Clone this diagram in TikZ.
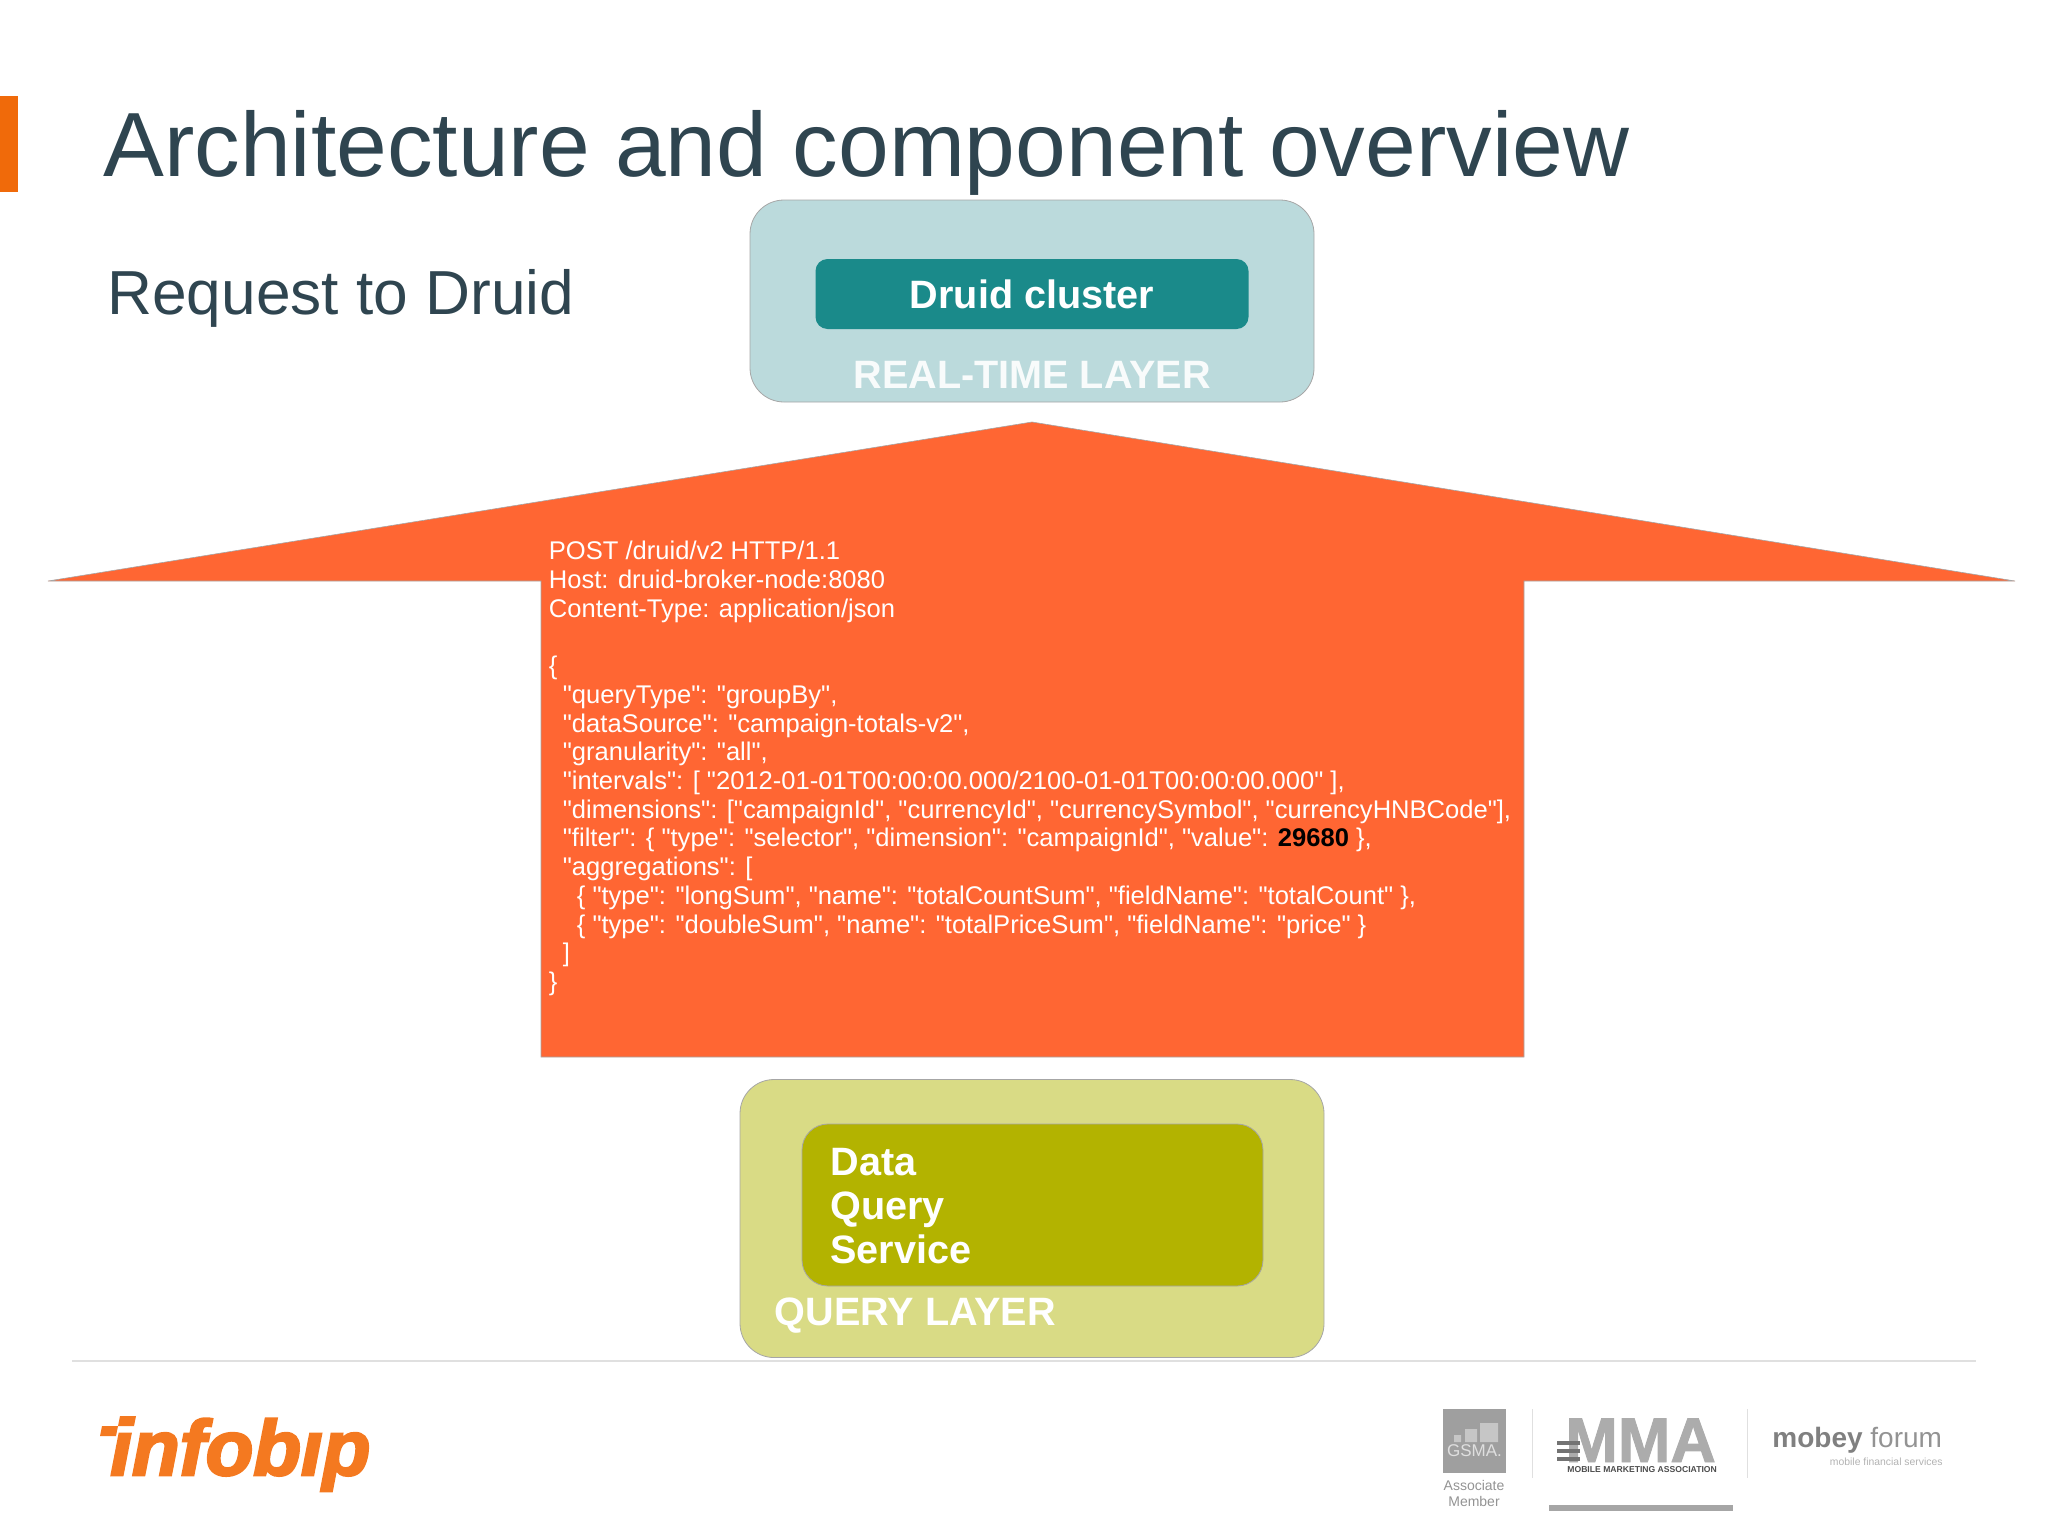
\documentclass[tikz,border=0pt]{standalone}
\usepackage{fontspec}
\setmainfont[Ligatures=TeXOff]{Liberation Sans}
\newfontfamily\logofont[FakeBold=3.2]{Liberation Sans}
\newfontfamily\mmafont[FakeBold=1.5]{Liberation Sans}
\definecolor{titlecol}{HTML}{2F4550}
\definecolor{barcol}{HTML}{F06A0A}
\definecolor{arrowcol}{HTML}{FF6633}
\definecolor{rtlayer}{HTML}{BBDADC}
\definecolor{rtinner}{HTML}{1A8A8A}
\definecolor{qlayer}{HTML}{D9DB85}
\definecolor{qinner}{HTML}{B3B300}
\definecolor{logocol}{HTML}{F47920}
\newcommand{\jsonind}{\hspace*{7pt}}
\tikzset{
    layerbox/.style={rounded corners=17pt,draw=gray!70,line width=0.4pt,inner sep=0pt},
    labeltxt/.style={anchor=base west,inner sep=0pt,text=white,font=\bfseries\fontsize{19.8}{22.2}\selectfont},
    greytxt/.style={inner sep=0pt,anchor=base west,text=gray!85},
}
\begin{document}
\begin{tikzpicture}[x=0.5pt,y=-0.5pt]
    \useasboundingbox (0,0) rectangle (2048,1536);
    \fill[barcol] (0,96) rectangle (18,192);
    \node[anchor=base west,inner sep=0pt,text=titlecol,font=\fontsize{45.6}{52}\selectfont] (title) at (103,176) {Architecture and component overview};
    \node[anchor=base west,inner sep=0pt,text=titlecol,font=\fontsize{31.1}{36}\selectfont] (subtitle) at (107,314) {Request to Druid};
    % real-time layer
    \node[layerbox,fill=rtlayer,minimum width=282pt,minimum height=101pt] (rtbox) at (1032,301) {};
    \node[fill=rtinner,rounded corners=6pt,inner sep=0pt,minimum width=216.5pt,minimum height=35pt,text=white,font=\bfseries\fontsize{19.8}{22}\selectfont] (cluster) at (1032,294) {Druid cluster};
    \node[labeltxt,anchor=base,text=white!90!rtlayer] (rtlabel) at (1032,388) {REAL-TIME LAYER};
    % request arrow
    \draw[fill=arrowcol,draw=gray!70,line width=0.3pt] (1032,422)--(2015,581)--(1524,581)--(1524,1057)--(541,1057)--(541,581)--(48,581)--cycle;
    \node[anchor=north west,inner sep=0pt,align=left,text=white,font=\fontsize{12.78}{14.35}\selectfont] (request) at (548.5,541) {POST /druid/v2 HTTP/1.1\\
        Host: druid-broker-node:8080\\
        Content-Type: application/json\\
        \mbox{}\\
        \{\\
        \jsonind"queryType": "groupBy",\\
        \jsonind"dataSource": "campaign-totals-v2",\\
        \jsonind"granularity": "all",\\
        \jsonind"intervals": [ "2012-01-01T00:00:00.000/2100-01-01T00:00:00.000" ],\\
        \jsonind"dimensions": ["campaignId", "currencyId", "currencySymbol", "currencyHNBCode"],\\
        \jsonind"filter": \{ "type": "selector", "dimension": "campaignId", "value": \textcolor{black}{\textbf{29680}} \},\\
        \jsonind"aggregations": [\\
        \jsonind\jsonind\{ "type": "longSum", "name": "totalCountSum", "fieldName": "totalCount" \},\\
        \jsonind\jsonind\{ "type": "doubleSum", "name": "totalPriceSum", "fieldName": "price" \}\\
        \jsonind]\\
        \}};
    % query layer
    \node[layerbox,fill=qlayer,minimum width=292pt,minimum height=139pt] (qbox) at (1032,1218.5) {};
    \node[layerbox,rounded corners=13pt,fill=qinner,minimum width=230.5pt,minimum height=81pt] (qservice) at (1032.5,1205) {};
    \node[labeltxt,anchor=north west,align=left,font=\bfseries\fontsize{19.8}{22.2}\selectfont] (dqs) at (830,1147.5) {Data\\Query\\Service};
    \node[labeltxt] (qlabel) at (774.5,1325.5) {QUERY LAYER};
    % footer
    \draw[draw=black!12,line width=0.8pt] (72,1361)--(1976,1361);
    \node[anchor=base west,inner sep=0pt,text=logocol,font=\logofont\bfseries\itshape\fontsize{39}{42}\selectfont] (infobip) at (110,1475) {ınfobıp};
    \fill[logocol] (120,1416)--(136,1416)--(134,1426)--(118,1426)--cycle;
    \fill[logocol] (102,1426)--(118,1426)--(116,1436)--(100,1436)--cycle;
    \fill[gray!75] (1443,1409) rectangle (1506,1473);
    \fill[gray!45] (1454,1435) rectangle (1461,1442) (1465,1429) rectangle (1477,1442) (1480,1423) rectangle (1498,1442);
    \node[inner sep=0pt,text=gray!25,font=\fontsize{8.5}{10}\selectfont] (gsma) at (1474.5,1451) {GSMA.};
    \node[greytxt,anchor=north,align=center,font=\fontsize{7}{7.9}\selectfont] (assoc) at (1474,1480) {Associate\\Member};
    \draw[black!12,line width=0.5pt] (1532,1409)--(1532,1478);
    \draw[black!12,line width=0.5pt] (1747,1409)--(1747,1478);
    \node[inner sep=0pt,anchor=base west,text=gray!65,font=\mmafont\bfseries\fontsize{31.5}{34}\selectfont] (mma) at (1565,1462) {MMA};
    \draw[gray!90!black,line width=2pt] (1557,1443)--(1580,1443);
    \draw[gray!90!black,line width=2pt] (1557,1451)--(1580,1451);
    \draw[gray!90!black,line width=2pt] (1557,1459)--(1580,1459);
    \node[inner sep=0pt,anchor=base west,text=black!70,font=\bfseries\fontsize{4.3}{5}\selectfont] (mmatxt) at (1567,1472) {MOBILE MARKETING ASSOCIATION};
    \fill[gray!70] (1549,1505) rectangle (1733,1511);
    \node[greytxt,font=\fontsize{14}{16}\selectfont] (mobey) at (1772,1447) {\textcolor{gray}{\textbf{mobey}} forum};
    \node[greytxt,anchor=base east,text=gray!60,font=\fontsize{5.2}{6}\selectfont] (mobeysub) at (1943,1465) {mobile financial services};
\end{tikzpicture}
\end{document}
